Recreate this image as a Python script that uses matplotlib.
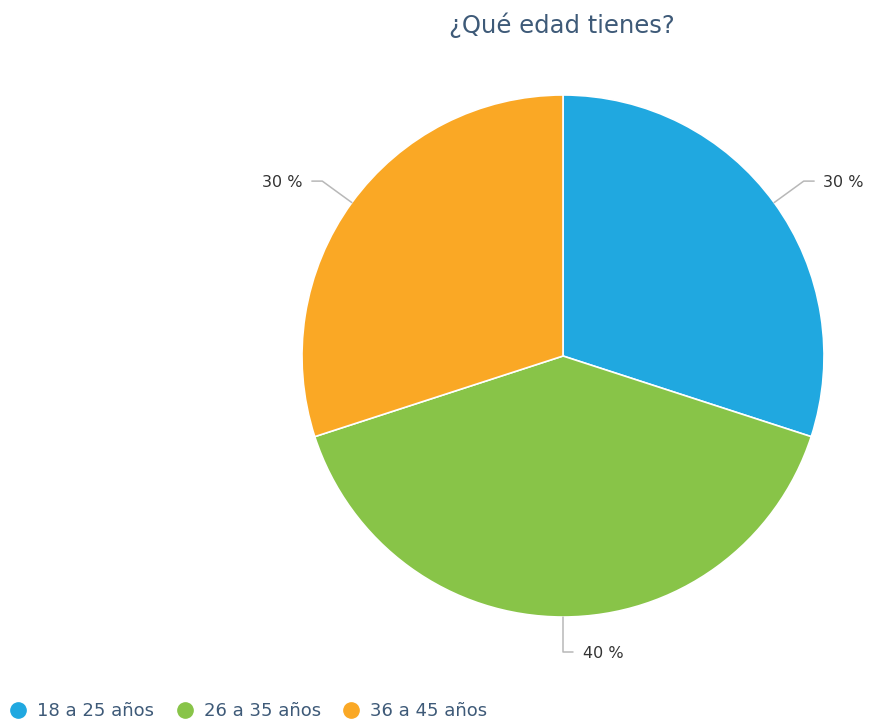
import numpy as np
import matplotlib.pyplot as plt
from matplotlib.lines import Line2D

categories = ['18 a 25 años', '26 a 35 años', '36 a 45 años']
values = [30, 40, 30]
colors = ['#20a8e0', '#88c448', '#faa825']
title = '¿Qué edad tienes?'
text_color = '#3e5a78'

fig = plt.figure(figsize=(8.69, 7.23), dpi=100)
r_px = 261
cx, cy = 563, 723 - 356
half = 1.1 * r_px
ax = fig.add_axes([(cx - half) / 869, (cy - half) / 723, 2 * half / 869, 2 * half / 723])

ax.pie(values, colors=colors, startangle=90, counterclock=False, radius=1,
       wedgeprops=dict(edgecolor='white', linewidth=1.2))
ax.set_xlim(-1.1, 1.1)
ax.set_ylim(-1.1, 1.1)
ax.axis('off')

# labels with leader lines
total = sum(values)
start = 0
for v in values:
    mid = (start + v / 2) / total
    start += v
    ang = np.deg2rad(90 - 360 * mid)
    c, s = np.cos(ang), np.sin(ang)
    side = -1 if c < -1e-6 else 1
    ex, ey = 1.14 * c, 1.14 * s
    if abs(c) < 1e-6:
        ey = -1.135
    hx = ex + 0.04 * side
    ax.plot([c, ex, hx], [s, ey, ey], color='#b8b8b8', lw=1.1, clip_on=False,
            solid_capstyle='round', solid_joinstyle='round')
    ax.text(hx + 0.035 * side, ey - 0.005, f'{v:.0f} %', ha='left' if side > 0 else 'right',
            va='center', fontsize=11.5, color='#333333', clip_on=False)

fig.text(562 / 869, 1 - 25 / 723, title, ha='center', va='center',
         fontsize=17.5, color=text_color)

handles = [Line2D([0], [0], marker='o', ls='', markersize=11, markerfacecolor=col,
                  markeredgecolor=col) for col in colors]
fig.legend(handles, categories, loc='center left', bbox_to_anchor=(0.002, 12 / 723), ncol=3,
           frameon=False, fontsize=13, labelcolor=text_color, handletextpad=0.55,
           columnspacing=1.2, handlelength=1.0, borderaxespad=0.0)

plt.savefig('out.png', dpi=100)
